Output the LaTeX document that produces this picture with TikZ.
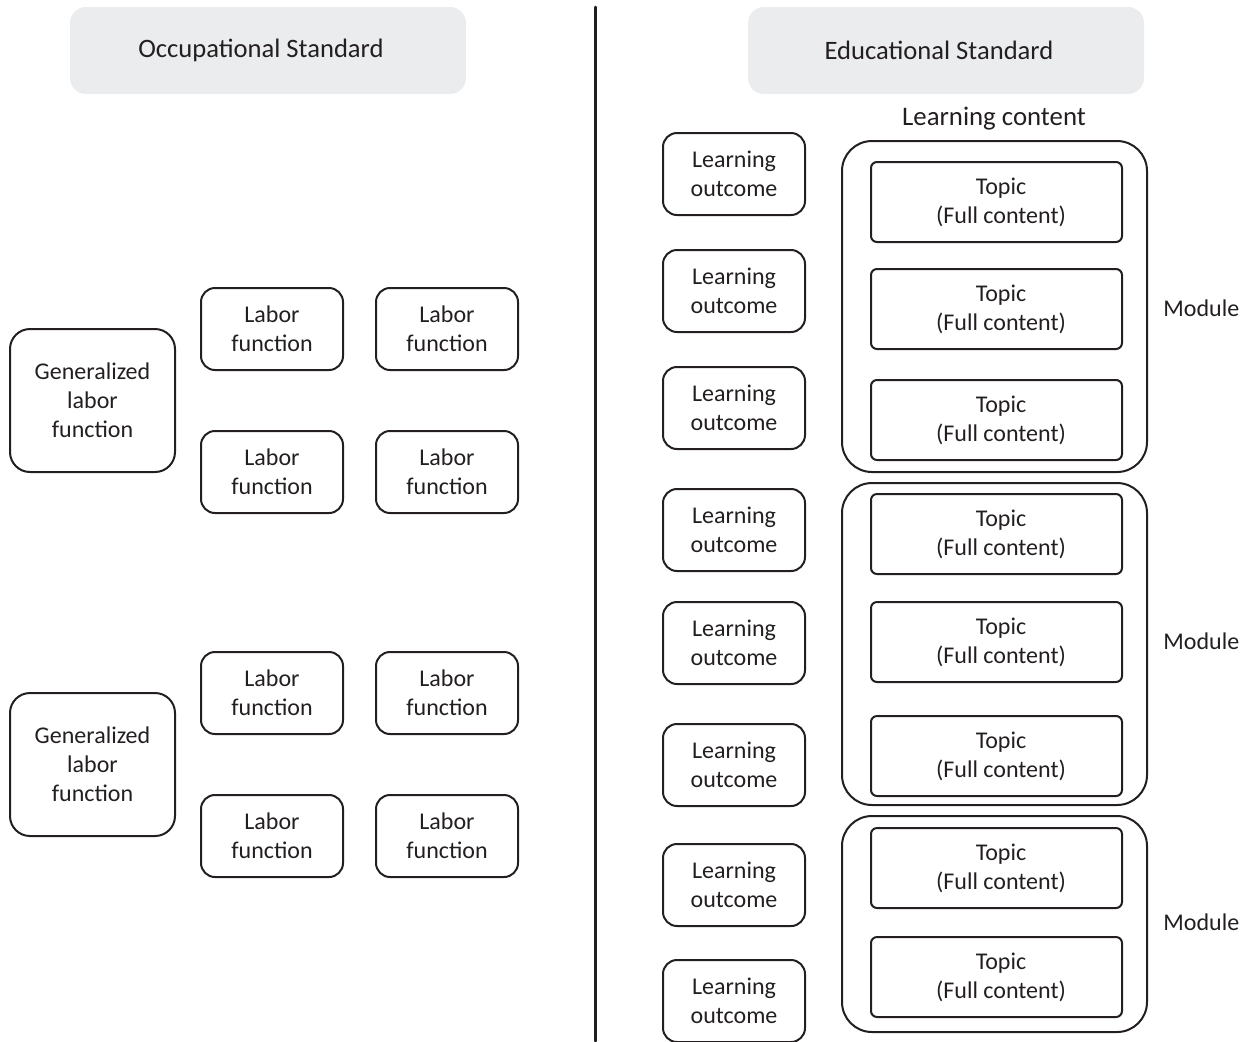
\documentclass[tikz,border=0pt]{standalone}
\usepackage{fontspec}
\setmainfont{Carlito}
\usepackage{tikz}

\definecolor{headgray}{HTML}{EBECEE}
\definecolor{inkgray}{HTML}{231F20}

\tikzset{
  box/.style={draw=inkgray, line width=1pt, align=center, text=inkgray,
    font=\fontsize{12}{14.5}\selectfont, inner sep=0pt},
  labor/.style={box, rounded corners=7pt, minimum width=71pt, minimum height=41pt},
  genlabor/.style={box, rounded corners=10pt, minimum width=82.5pt, minimum height=71.5pt},
  outcome/.style={box, rounded corners=7pt, minimum width=71pt, minimum height=41pt},
  topic/.style={box, rounded corners=3pt, minimum width=125.5pt, minimum height=40pt},
  module/.style={box, rounded corners=15pt, minimum width=152.5pt},
  header/.style={fill=headgray, rounded corners=8pt, minimum width=198pt,
    minimum height=43.5pt},
  headtext/.style={text=inkgray, font=\fontsize{13.3}{16}\selectfont, inner sep=0pt},
  caption/.style={text=inkgray, font=\fontsize{12}{14.5}\selectfont, inner sep=0pt}
}

\begin{document}
\begin{tikzpicture}[x=0.5pt, y=-0.5pt, line cap=round]
  \useasboundingbox (0,0) rectangle (1247,1041);
  % headers and divider
  \node[header] (occ) at (268,50.5) {};
  \node[headtext] (occtxt) at (261,50) {Occupational Standard};
  \node[header] (edu) at (946,50.5) {};
  \node[headtext] (edutxt) at (939,50) {Educational Standard};
  \coordinate (divtop) at (595,7);
  \coordinate (divbot) at (595,1041);
  \draw[inkgray, line width=1.5pt] (divtop) -- (divbot);
  % occupational side
  \node[genlabor] (gen1) at (92.5,400.5) {Generalized\\labor\\function};
  \node[genlabor] (gen2) at (92.5,764.5) {Generalized\\labor\\function};
  \foreach \ly [count=\i] in {329,472,693,836}{
    \node[labor] (lab\i a) at (272,\ly) {Labor\\function};
    \node[labor] (lab\i b) at (447,\ly) {Labor\\function};
  }
  % educational side: learning outcomes
  \foreach \oy [count=\i] in {174,291,408,530,643,765,885,1001}{
    \node[outcome] (out\i) at (734,\oy) {Learning\\outcome};
  }
  % modules
  \node[module, minimum height=165.5pt] (mod1) at (994.5,306.5) {};
  \node[module, minimum height=161pt] (mod2) at (994.5,644) {};
  \node[module, minimum height=108pt] (mod3) at (994.5,924) {};
  % topics
  \foreach \ty [count=\i] in {202,309,420,534,642,756,868,977}{
    \node[topic] (top\i) at (996.5,\ty) {\hspace*{4.5pt}Topic\\\hspace*{4.5pt}(Full content)};
  }
  \node[caption, font=\fontsize{13.4}{16}\selectfont] (lcont) at (994,119) {Learning content};
  \node[caption, anchor=west] (modlab1) at (1163,308) {Module};
  \node[caption, anchor=west] (modlab2) at (1163,641) {Module};
  \node[caption, anchor=west] (modlab3) at (1163,922) {Module};
\end{tikzpicture}
\end{document}
